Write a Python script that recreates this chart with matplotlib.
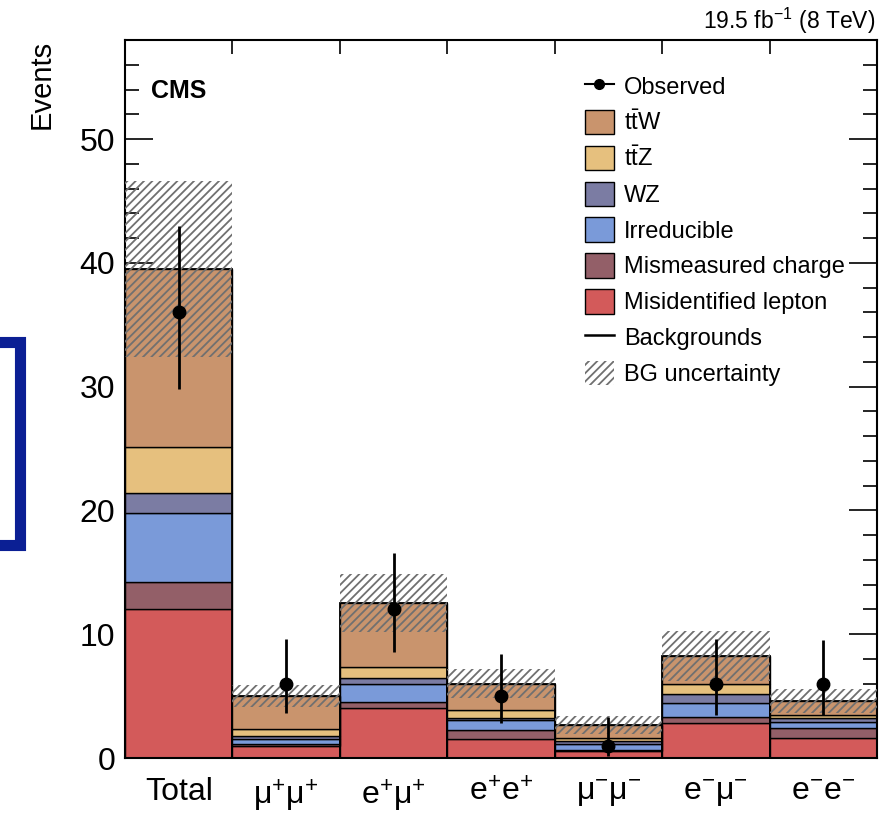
import matplotlib
matplotlib.use("Agg")
import matplotlib.pyplot as plt
from matplotlib.patches import Patch
from matplotlib.lines import Line2D
import numpy as np

plt.rcParams['font.family'] = ['Liberation Sans', 'DejaVu Sans']
plt.rcParams['mathtext.default'] = 'regular'
plt.rcParams['hatch.linewidth'] = 1.3
plt.rcParams['hatch.color'] = '#707070'

channels = ['Total', r'$\mu^{+}\mu^{+}$', r'$e^{+}\mu^{+}$', r'$e^{+}e^{+}$',
            r'$\mu^{-}\mu^{-}$', r'$e^{-}\mu^{-}$', r'$e^{-}e^{-}$']

# background components per channel, bottom to top
misid  = [12.0, 1.00, 4.05, 1.50, 0.55, 2.85, 1.65]
charge = [2.2, 0.10, 0.50, 0.75, 0.10, 0.45, 0.80]
irred  = [5.6, 0.45, 1.40, 0.80, 0.50, 1.15, 0.45]
wz     = [1.6, 0.25, 0.55, 0.20, 0.20, 0.70, 0.35]
ttz    = [3.7, 0.55, 0.85, 0.65, 0.30, 0.85, 0.25]
ttw    = [14.4, 2.65, 5.15, 2.10, 1.00, 2.25, 1.10]
bg_unc = [7.1, 0.90, 2.35, 1.15, 0.75, 2.00, 0.95]

observed = [36, 6, 12, 5, 1, 6, 6]
obs_up   = [43.0, 9.6, 16.6, 8.4, 3.3, 9.6, 9.5]
obs_down = [29.8, 3.6, 8.6, 2.8, 0.2, 3.5, 3.5]

components = [
    (misid,  '#d35a5a', 'Misidentified lepton'),
    (charge, '#935f68', 'Mismeasured charge'),
    (irred,  '#7a9ad9', 'Irreducible'),
    (wz,     '#7b7ca3', 'WZ'),
    (ttz,    '#e6c07e', r'$t\bar{t}Z$'),
    (ttw,    '#c9946d', r'$t\bar{t}W$'),
]

fig = plt.figure(figsize=(8.92, 8.14), dpi=100)
ax = fig.add_axes([125 / 892, 56 / 814, 752 / 892, 718 / 814])

x = np.arange(len(channels))
bottom = np.zeros(len(channels))
for vals, col, lab in components:
    ax.bar(x, vals, width=1.0, bottom=bottom, color=col, edgecolor='black',
           linewidth=1.0, zorder=2)
    bottom += np.array(vals)
total_bg = bottom.copy()

# outline of the summed backgrounds
ax.bar(x, total_bg, width=1.0, fill=False, edgecolor='black', linewidth=1.3, zorder=3)

# background uncertainty band
unc = np.array(bg_unc)
ax.bar(x, 2 * unc, width=1.0, bottom=total_bg - unc, fill=False, hatch='////',
       edgecolor='#707070', linewidth=0, zorder=4)

obs = np.array(observed, dtype=float)
yerr = [obs - np.array(obs_down), np.array(obs_up) - obs]
ax.errorbar(x, obs, yerr=yerr, fmt='o', color='black', markersize=9,
            elinewidth=2, capsize=0, zorder=5)

ax.set_xlim(-0.5, len(channels) - 0.5)
ax.set_ylim(0, 58)
ax.set_xticks(x)
ax.set_xticklabels(channels, fontsize=23)
ax.set_xticks(np.arange(-0.5, len(channels)), minor=True)
ax.tick_params(axis='x', which='major', length=0, pad=14)
ax.tick_params(axis='x', which='minor', direction='in', length=10, top=True,
               bottom=False, width=1.2)
ax.set_yticks(np.arange(0, 51, 10))
ax.set_yticks(np.arange(0, 58, 2), minor=True)
ax.tick_params(axis='y', which='major', direction='in', length=20, width=1.2,
               right=True, labelsize=23, pad=7)
ax.tick_params(axis='y', which='minor', direction='in', length=10, width=1.2,
               right=True)
for s in ax.spines.values():
    s.set_linewidth(1.5)

ax.set_ylabel('Events', fontsize=21, loc='top', labelpad=17)
ax.text(0.035, 0.945, 'CMS', transform=ax.transAxes, fontsize=18,
        fontweight='bold', va='top')
ax.text(0.997, 1.006, r'19.5 fb$^{-1}$ (8 TeV)', transform=ax.transAxes,
        fontsize=16.5, ha='right', va='bottom')

handles = [Line2D([0], [0], color='black', marker='o', markersize=7, lw=1.5)]
labels = ['Observed']
for vals, col, lab in components[::-1]:
    handles.append(Patch(facecolor=col, edgecolor='black', linewidth=1.0))
    labels.append(lab)
handles.append(Line2D([0], [0], color='black', lw=1.8))
labels.append('Backgrounds')
handles.append(Patch(facecolor='none', edgecolor='#707070', hatch='////', linewidth=0))
labels.append('BG uncertainty')
ax.legend(handles, labels, loc='upper left', bbox_to_anchor=(0.612, 0.953),
          frameon=False, fontsize=17, handlelength=1.2, handleheight=1.2,
          labelspacing=0.46, handletextpad=0.45, borderaxespad=0, borderpad=0)

# hand-drawn bracket at the left margin
fig.add_artist(Line2D([0 / 892, 20 / 892, 20 / 892, 0 / 892],
                      [1 - 342 / 814, 1 - 342 / 814, 1 - 545 / 814, 1 - 545 / 814],
                      transform=fig.transFigure, color='#0b1f94', lw=8,
                      solid_joinstyle='miter'))

fig.savefig('out.png', dpi=100)
